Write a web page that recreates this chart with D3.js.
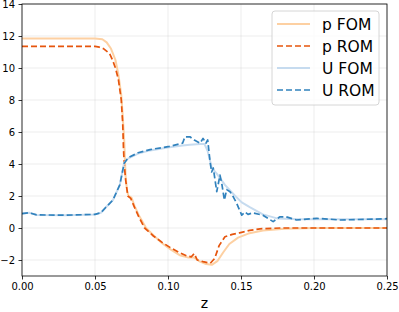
<!DOCTYPE html>
<html>
<head>
<meta charset="utf-8">
<script src="https://cdn.jsdelivr.net/npm/d3@7"></script>
<style>
  body { margin: 0; background: #fff; }
  svg { font-family: "DejaVu Sans", sans-serif; }
</style>
</head>
<body>
<div id="chart"></div>
<script>
// p, FOM
const pFomZ = [0, 0.02, 0.04, 0.05, 0.055, 0.058, 0.061, 0.064, 0.066, 0.068, 0.069, 0.070, 0.0705, 0.071, 0.072, 0.073, 0.075, 0.077, 0.080, 0.085, 0.090, 0.096, 0.102, 0.108, 0.114, 0.118, 0.122, 0.126, 0.130, 0.134, 0.138, 0.142, 0.148, 0.155, 0.165, 0.180, 0.200, 0.250];
const pFomV = [11.85, 11.85, 11.85, 11.85, 11.8, 11.6, 11.2, 10.5, 9.6, 8.3, 7.0, 5.5, 4.3, 3.2, 2.3, 2.0, 1.9, 1.4, 0.8, 0.0, -0.45, -0.95, -1.35, -1.7, -1.85, -1.85, -2.1, -2.25, -2.3, -2.05, -1.5, -1.0, -0.6, -0.35, -0.15, -0.05, 0.0, 0.0];
// p, ROM
const pRomZ = [0, 0.02, 0.04, 0.05, 0.053, 0.056, 0.060, 0.062, 0.064, 0.066, 0.068, 0.069, 0.0695, 0.070, 0.071, 0.0725, 0.0745, 0.077, 0.080, 0.084, 0.090, 0.096, 0.102, 0.108, 0.113, 0.116, 0.118, 0.120, 0.124, 0.129, 0.132, 0.135, 0.139, 0.144, 0.149, 0.156, 0.163, 0.177, 0.200, 0.250];
const pRomV = [11.35, 11.35, 11.35, 11.35, 11.3, 11.2, 10.9, 10.5, 10.0, 9.3, 8.0, 6.5, 5.0, 4.0, 3.0, 2.0, 1.85, 1.3, 0.7, 0.0, -0.5, -0.9, -1.25, -1.55, -1.75, -1.8, -1.6, -2.0, -2.1, -2.2, -1.9, -1.1, -0.55, -0.4, -0.3, -0.15, -0.05, 0.0, 0.0, 0.0];
// U, FOM
const uFomZ = [0, 0.005, 0.01, 0.03, 0.05, 0.054, 0.057, 0.0623, 0.067, 0.070, 0.0728, 0.0795, 0.0877, 0.101, 0.110, 0.115, 0.122, 0.125, 0.1272, 0.130, 0.1334, 0.139, 0.1454, 0.1505, 0.156, 0.160, 0.165, 0.1747, 0.190, 0.220, 0.250];
const uFomV = [0.9, 0.95, 0.82, 0.8, 0.85, 0.95, 1.25, 1.75, 2.7, 4.1, 4.35, 4.65, 4.85, 5.05, 5.15, 5.2, 5.25, 5.25, 4.8, 3.75, 3.4, 2.7, 2.06, 1.6, 1.3, 1.1, 0.85, 0.6, 0.55, 0.55, 0.55];
// U, ROM
const uRomZ = [0, 0.005, 0.01, 0.03, 0.05, 0.054, 0.057, 0.0623, 0.067, 0.070, 0.0728, 0.0795, 0.0877, 0.101, 0.110, 0.1116, 0.115, 0.118, 0.122, 0.124, 0.126, 0.1272, 0.1288, 0.1299, 0.131, 0.1334, 0.1356, 0.1368, 0.1386, 0.1402, 0.1425, 0.1447, 0.147, 0.1505, 0.1527, 0.1548, 0.158, 0.165, 0.172, 0.1767, 0.181, 0.188, 0.195, 0.202, 0.211, 0.218, 0.250];
const uRomV = [0.9, 0.95, 0.82, 0.8, 0.85, 0.95, 1.25, 1.75, 2.7, 4.05, 4.4, 4.7, 4.9, 5.1, 5.3, 5.7, 5.7, 5.5, 5.3, 5.6, 5.3, 5.5, 4.15, 3.5, 3.75, 2.27, 3.3, 2.8, 1.75, 2.4, 2.27, 1.95, 1.55, 0.8, 1.0, 0.85, 0.95, 0.8, 0.4, 0.7, 0.7, 0.5, 0.55, 0.6, 0.55, 0.5, 0.58];

const xTicks = [0, 0.05, 0.10, 0.15, 0.20, 0.25];
const yTicks = [-2, 0, 2, 4, 6, 8, 10, 12, 14];

const series = [
  { name: 'p FOM', z: pFomZ, v: pFomV, color: '#fdd0a2', width: 2, dash: null },
  { name: 'p ROM', z: pRomZ, v: pRomV, color: '#e6550d', width: 1.7, dash: '6,3' },
  { name: 'U FOM', z: uFomZ, v: uFomV, color: '#c6dbef', width: 2, dash: null },
  { name: 'U ROM', z: uRomZ, v: uRomV, color: '#3182bd', width: 1.7, dash: '6,3' }
];

const width = 399, height = 312;
const margin = { top: 4, right: 12, bottom: 36, left: 22 };
const boundedWidth = width - margin.left - margin.right;
const boundedHeight = height - margin.top - margin.bottom;

const svg = d3.select('#chart')
  .append('svg')
    .attr('width', width)
    .attr('height', height);

const bounds = svg.append('g')
  .attr('transform', `translate(${margin.left},${margin.top})`);

const xScale = d3.scaleLinear().domain([0, 0.25]).range([0, boundedWidth]);
const yScale = d3.scaleLinear().domain([-3, 14]).range([boundedHeight, 0]);

// grid
bounds.append('g')
  .selectAll('line')
  .data(xTicks)
  .join('line')
    .attr('x1', d => xScale(d)).attr('x2', d => xScale(d))
    .attr('y1', 0).attr('y2', boundedHeight)
    .attr('stroke', '#b0b0b0').attr('stroke-opacity', 0.3).attr('stroke-width', 0.8);

bounds.append('g')
  .selectAll('line')
  .data(yTicks)
  .join('line')
    .attr('x1', 0).attr('x2', boundedWidth)
    .attr('y1', d => yScale(d)).attr('y2', d => yScale(d))
    .attr('stroke', '#b0b0b0').attr('stroke-opacity', 0.3).attr('stroke-width', 0.8);

// lines
const lineGenerator = d3.line()
  .x(d => xScale(d[0]))
  .y(d => yScale(d[1]));

bounds.append('defs').append('clipPath').attr('id', 'clip')
  .append('rect').attr('width', boundedWidth).attr('height', boundedHeight);

series.forEach(s => {
  bounds.append('path')
    .attr('clip-path', 'url(#clip)')
    .attr('d', lineGenerator(d3.zip(s.z, s.v)))
    .attr('fill', 'none')
    .attr('stroke', s.color)
    .attr('stroke-width', s.width)
    .attr('stroke-dasharray', s.dash)
    .attr('stroke-linejoin', 'round');
});

// axes
const xAxis = bounds.append('g')
  .attr('transform', `translate(0,${boundedHeight})`)
  .call(d3.axisBottom(xScale).tickValues(xTicks).tickFormat(d3.format('.2f')).tickSize(3.5).tickPadding(3.5));

const yAxis = bounds.append('g')
  .call(d3.axisLeft(yScale).tickValues(yTicks).tickFormat(d => d < 0 ? '\u2212' + Math.abs(d) : d).tickSize(3.5).tickPadding(3.5));

[xAxis, yAxis].forEach(a => {
  a.select('.domain').remove();
  a.selectAll('.tick line').attr('stroke', '#000').attr('stroke-width', 0.8);
  a.selectAll('.tick text').attr('fill', '#000').style('font-size', '10px').style('font-family', '"DejaVu Sans", sans-serif');
});

bounds.append('rect')
  .attr('width', boundedWidth)
  .attr('height', boundedHeight)
  .attr('fill', 'none')
  .attr('stroke', '#000')
  .attr('stroke-width', 0.8);

bounds.append('text')
  .attr('x', boundedWidth / 2)
  .attr('y', boundedHeight + 32)
  .attr('text-anchor', 'middle')
  .style('font-size', '14px')
  .text('z');

// legend
const legend = svg.append('g').attr('transform', 'translate(272,11)');
legend.append('rect')
  .attr('width', 107).attr('height', 94)
  .attr('rx', 3)
  .attr('fill', '#fff').attr('fill-opacity', 0.8)
  .attr('stroke', '#ccc').attr('stroke-width', 0.8);

series.forEach((s, i) => {
  const row = legend.append('g').attr('transform', `translate(0,${13 + i * 22})`);
  row.append('line')
    .attr('x1', 5).attr('x2', 38)
    .attr('stroke', s.color)
    .attr('stroke-width', s.width)
    .attr('stroke-dasharray', s.dash);
  row.append('text')
    .attr('x', 50).attr('y', 5.5)
    .style('font-size', '15.5px')
    .text(s.name);
});
</script>
</body>
</html>
